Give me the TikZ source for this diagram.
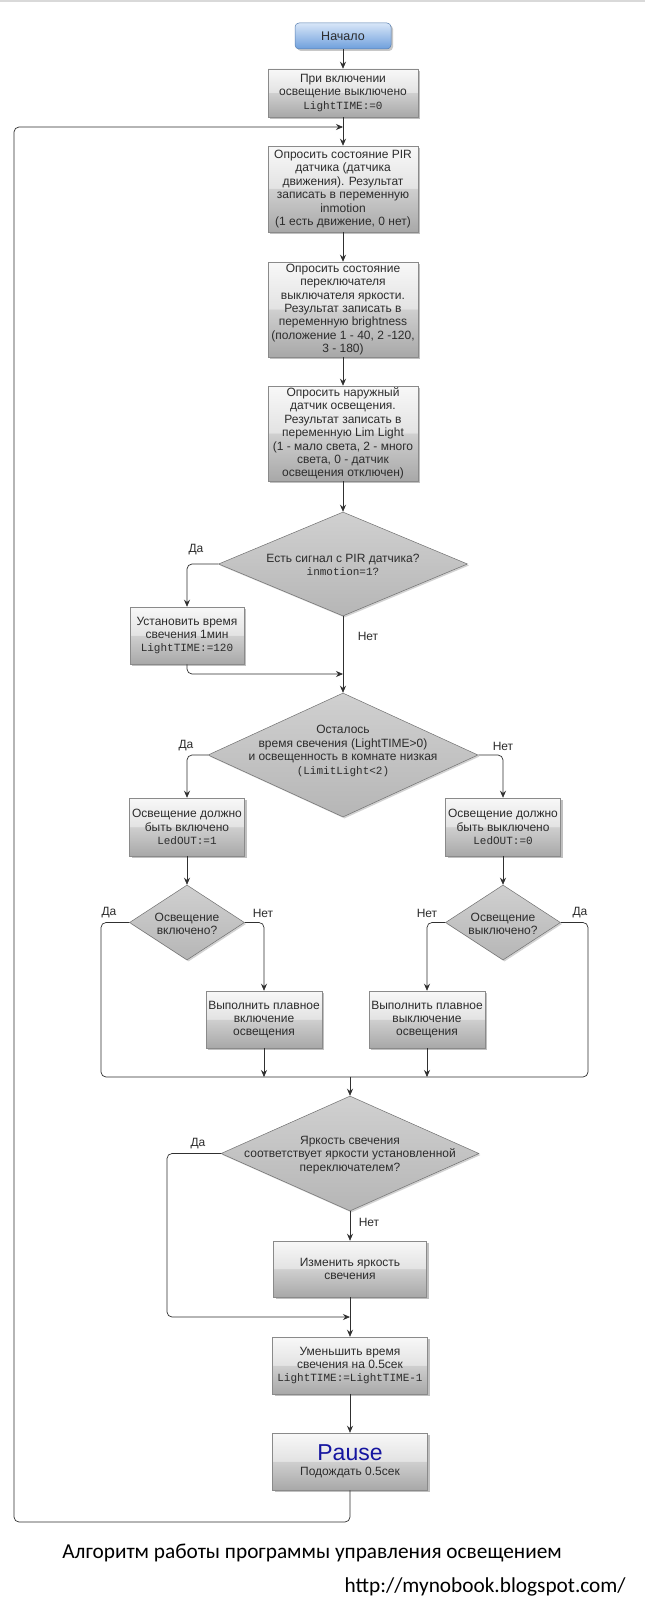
\documentclass[tikz,border=0pt]{standalone}
\usepackage{fontspec}
\setmainfont{Liberation Sans}
\newfontfamily\monof{Liberation Mono}
\newfontfamily\capf{Carlito}
\usetikzlibrary{arrows.meta,shapes.geometric,shadows}
\definecolor{boxtop}{HTML}{F8F8F8}
\definecolor{boxmidA}{HTML}{E3E3E3}
\definecolor{boxmidB}{HTML}{CFCFCF}
\definecolor{boxbot}{HTML}{A8A8A8}
\definecolor{dtop}{HTML}{D0D0D0}
\definecolor{dbot}{HTML}{B6B6B6}
\definecolor{bluetop}{HTML}{D8E6F8}
\definecolor{bluebot}{HTML}{6E9FDC}
\definecolor{edgec}{HTML}{8A8A8A}
\definecolor{dedge}{HTML}{707070}
\definecolor{txtc}{HTML}{2C2C2C}
\definecolor{linc}{HTML}{303030}
\definecolor{pauseblue}{HTML}{1515A0}
\pgfdeclareverticalshading{glassbox}{100bp}{color(0bp)=(boxbot); color(25bp)=(boxbot); color(50bp)=(boxmidB); color(50.5bp)=(boxmidA); color(75bp)=(boxtop); color(100bp)=(boxtop)}
\tikzset{
  proc/.style={rectangle, draw=edgec, line width=0.5pt, shading=glassbox,
    inner sep=1pt, align=center, text=txtc,
    font=\fontsize{12}{13.4}\selectfont,
    drop shadow={shadow xshift=2pt, shadow yshift=-2pt, opacity=0.35, fill=black!70}},
  startbox/.style={rectangle, rounded corners=4pt, draw=bluebot!80!black, line width=0.5pt,
    top color=bluetop, bottom color=bluebot, text=txtc, font=\fontsize{12.5}{14}\selectfont,
    drop shadow={shadow xshift=2pt, shadow yshift=-2pt, opacity=0.3, fill=black!70}},
  decis/.style={diamond, draw=dedge, line width=0.5pt, inner sep=0pt,
    top color=dtop, bottom color=dbot,
    drop shadow={shadow xshift=1.5pt, shadow yshift=-1.5pt, opacity=0.25, fill=black!70}},
  dtxt/.style={align=center, text=txtc, inner sep=0pt, font=\fontsize{12}{13.4}\selectfont},
  lab/.style={text=txtc, inner sep=0pt, font=\fontsize{12}{14}\selectfont},
  conn/.style={draw=linc, line width=0.7pt, rounded corners=5pt},
  arr/.style={conn, -{Stealth[length=7pt,width=6pt]}},
  captxt/.style={font=\capf\fontsize{21.3}{25}\selectfont, text=black, inner sep=0pt}
}
\newcommand{\mt}[1]{{\monof\fontsize{11}{13.4}\selectfont #1}}
\begin{document}
\begin{tikzpicture}[x=1pt,y=-1pt]
\useasboundingbox (0,0) rectangle (645,1600);
\fill[white] (0,0) rectangle (645,1600);
\fill[black!15] (0,0) rectangle (645,2.5);

% ---------- top column ----------
\node[startbox, minimum width=96pt, minimum height=26pt] (start) at (343,36) {Начало};
\node[proc, minimum width=150pt, minimum height=48pt] (b1) at (343,93)
  {При включении\\освещение выключено\\\mt{LightTIME:=0}};
\node[proc, minimum width=150pt, minimum height=86pt] (pir) at (343,189)
  {Опросить состояние PIR\\датчика (датчика\\движения). Результат\\записать в переменную\\inmotion\\(1 есть движение, 0 нет)};
\node[proc, minimum width=150pt, minimum height=95pt] (br) at (343,309.5)
  {Опросить состояние\\переключателя\\выключателя яркости.\\Результат записать в\\переменную brightness\\(положение 1 - 40, 2 -120,\\3 - 180)};
\node[proc, minimum width=150pt, minimum height=95pt] (ll) at (343,433.5)
  {Опросить наружный\\датчик освещения.\\Результат записать в\\переменную Lim Light\\(1 - мало света, 2 - много\\света, 0 - датчик\\освещения отключен)};

% decision 1
\node[decis, minimum width=249pt, minimum height=104pt] (d1) at (343,564) {};
\node[dtxt] (d1t) at (343,565) {Есть сигнал с PIR датчика?\\\mt{inmotion=1?}};
\node[proc, minimum width=114pt, minimum height=57pt] (setT) at (187,635.5)
  {Установить время\\свечения 1мин\\\mt{LightTIME:=120}};
\coordinate (j1) at (343,674);

% decision 2
\node[decis, minimum width=270pt, minimum height=124pt] (d2) at (343,755) {};
\node[dtxt] (d2t) at (343,751) {Осталось\\время свечения (LightTIME>0)\\и освещенность в комнате низкая\\\mt{(LimitLight<2)}};
\node[proc, minimum width=115pt, minimum height=58pt] (onB) at (187,827)
  {Освещение должно\\быть включено\\\mt{LedOUT:=1}};
\node[proc, minimum width=115pt, minimum height=58pt] (offB) at (503,827)
  {Освещение должно\\быть выключено\\\mt{LedOUT:=0}};

% small decisions
\node[decis, minimum width=115pt, minimum height=75pt] (sd1) at (187,922.5) {};
\node[dtxt] (sd1t) at (187,924) {Освещение\\включено?};
\node[decis, minimum width=115pt, minimum height=75pt] (sd2) at (503,922.5) {};
\node[dtxt] (sd2t) at (503,924) {Освещение\\выключено?};
\node[proc, minimum width=116pt, minimum height=57pt] (son) at (264,1019.5)
  {Выполнить плавное\\включение\\освещения};
\node[proc, minimum width=116pt, minimum height=57pt] (soff) at (427,1019.5)
  {Выполнить плавное\\выключение\\освещения};
\coordinate (m1) at (350,1077);
\coordinate (lc1) at (101,1077);
\coordinate (rc1) at (588,1077);

% decision 3
\node[decis, minimum width=258pt, minimum height=115pt] (d3) at (350,1153.5) {};
\node[dtxt] (d3t) at (350,1155) {Яркость свечения\\соответствует яркости установленной\\переключателем?};
\node[proc, minimum width=153pt, minimum height=56pt] (chg) at (350,1269)
  {Изменить яркость\\свечения};
\coordinate (m2) at (350,1317);
\coordinate (lc2) at (167,1317);
\node[proc, minimum width=155pt, minimum height=57pt] (dec) at (350,1365.5)
  {Уменьшить время\\свечения на 0.5сек\\\mt{LightTIME:=LightTIME-1}};
\node[proc, minimum width=155pt, minimum height=57pt] (pause) at (350,1461.5)
  {{\color{pauseblue}\fontsize{23}{24}\selectfont Pause}\\[2pt]Подождать 0.5сек};

% loop coordinates
\coordinate (lpA) at (350,1522);
\coordinate (lpB) at (14,1522);
\coordinate (lpC) at (14,127);
\coordinate (lpin) at (343,127);

% ---------- connectors ----------
\draw[arr] (start) -- (b1);
\draw[arr] (b1) -- (pir);
\draw[arr] (pir) -- (br);
\draw[arr] (br) -- (ll);
\draw[arr] (ll) -- (d1.north);
\draw[arr] (d1.west) -| (setT.north);
\draw[arr] (setT.south) |- (j1);
\draw[arr] (d1.south) -- (d2.north);
\draw[arr] (d2.west) -| (onB.north);
\draw[arr] (d2.east) -| (offB.north);
\draw[arr] (onB) -- (sd1.north);
\draw[arr] (offB) -- (sd2.north);
\draw[arr] (sd1.east) -| (son.north);
\draw[arr] (sd2.west) -| (soff.north);
\draw[conn] (sd1.west) -| (lc1) -- (m1);
\draw[conn] (sd2.east) -| (rc1) -- (m1);
\draw[arr] (son.south) -- (son.south |- m1);
\draw[arr] (soff.south) -- (soff.south |- m1);
\draw[arr] (m1) -- (d3.north);
\draw[arr] (d3.west) -| (lc2) -- (m2);
\draw[arr] (d3.south) -- (chg.north);
\draw[arr] (chg) -- (dec);
\draw[arr] (dec) -- (pause);
\draw[arr] (pause.south) -- (lpA) -- (lpB) -- (lpC) -- (lpin);

% ---------- labels ----------
\node[lab] (y1) at (196,550) {Да};
\node[lab] (n1) at (368,636) {Нет};
\node[lab] (y2) at (186,746) {Да};
\node[lab] (n2) at (503,746) {Нет};
\node[lab] (y3) at (109,913) {Да};
\node[lab] (n3) at (263,913) {Нет};
\node[lab] (n4) at (427,913) {Нет};
\node[lab] (y4) at (580,913) {Да};
\node[lab] (y5) at (198,1144) {Да};
\node[lab] (n5) at (369,1222) {Нет};

% ---------- caption ----------
\node[captxt] (cap) at (312,1553)
  {Алгоритм работы программы управления освещением};
\node[captxt, anchor=east] (url) at (626,1587)
  {http://mynobook.blogspot.com/};
\end{tikzpicture}
\end{document}
